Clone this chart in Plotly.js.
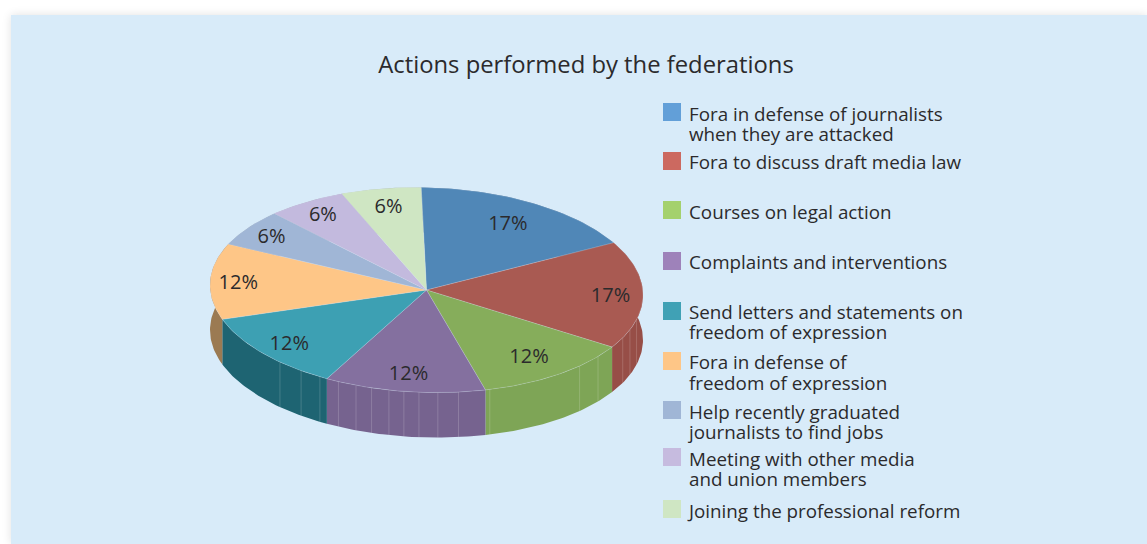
<!DOCTYPE html>
<html><head><meta charset="utf-8">
<script src="https://cdn.plot.ly/plotly-3.0.1.min.js"></script>
<style>
html,body{margin:0;padding:0;background:#fff;width:1147px;height:544px;overflow:hidden}
#panel{position:absolute;left:11px;top:15px;width:1136px;height:529px;background:#d8ebf9;box-shadow:0 0 9px rgba(0,0,0,.12)}
#chart{position:absolute;left:0;top:0;width:1147px;height:544px}
</style></head><body>
<div id="panel"></div><div id="chart"></div>
<script>
const titleText = "Actions performed by the federations";
const categories = [
 "Fora in defense of journalists<br>when they are attacked",
 "Fora to discuss draft media law",
 "Courses on legal action",
 "Complaints and interventions",
 "Send letters and statements on<br>freedom of expression",
 "Fora in defense of<br>freedom of expression",
 "Help recently graduated<br>journalists to find jobs",
 "Meeting with other media<br>and union members",
 "Joining the professional reform"];
const shares = [17,17,12,12,12,12,6,6,6];
const topColors = ["#5087b7","#a95a52","#86ad5b","#84709f","#3da0b3","#fec687","#a0b6d6","#c3bade","#cfe6c3"];
const sideColors = ["#3f6c93","#974e47","#7ea556","#76638f","#1e6472","#9b7a52","#7f92ab","#9c95b2","#a5b89c"];
const swatchColors = ["#629fd8","#cc6960","#a4d16d","#9e82ba","#40a1b5","#fec687","#a0b6d6","#c6bbdf","#cfe6c3"];
const swatchY = [112,161,210,261,311,361,410,457,509];
const legendLineY = [[114,134],[162],[212],[262],[312,332],[362,383],[412,432],[459,479],[511]];
const labelRadius = [.77,.85,.78,.82,.84,.87,.87,.86,.83];
const seamAngles = [104,110,115,127.6,135,163,171.5,177,182,186,190,194.7,199,204,209.5,215.4,222.6];

const cx=426.5, cy=290, rx=216.5, ry=102.5, depth=45, tilt=0.023, startAngle=-1.4, textNudge=2;
const font="Open Sans, sans-serif", ink="#2b2a2c";
const rad=d=>d*Math.PI/180;
const px=a=>cx+rx*Math.sin(rad(a));
const py=(a,dz=0)=>{const x=px(a);return cy-ry*Math.cos(rad(a))+tilt*(x-cx)+dz;};
function arc(a,b){const n=Math.max(2,Math.ceil(Math.abs(b-a)));const o=[];for(let i=0;i<=n;i++)o.push(a+(b-a)*i/n);return o;}

const total=shares.reduce((s,v)=>s+v,0);
let acc=startAngle;
const slices=shares.map((v,i)=>{const a=acc;const b=acc+v/total*360;acc=b;return {i,a,b,v};});
const traces=[];
slices.forEach(s=>{
  const ang=arc(s.a,s.b);
  const xs=ang.map(px).concat(ang.slice().reverse().map(px),[px(s.a)]);
  const ys=ang.map(a=>py(a)).concat(ang.slice().reverse().map(a=>py(a,depth)),[py(s.a)]);
  traces.push({type:"scatter",mode:"lines",x:xs,y:ys,fill:"toself",fillcolor:sideColors[s.i],line:{width:0},hoverinfo:"skip",showlegend:false});
});
seamAngles.forEach(a=>traces.push({type:"scatter",mode:"lines",x:[px(a),px(a)],y:[py(a),py(a,depth)],line:{width:1,color:"rgba(255,255,255,0.17)"},hoverinfo:"skip",showlegend:false}));
slices.forEach(s=>{
  const ang=arc(s.a,s.b);
  const xs=[cx].concat(ang.map(px),[cx]);
  const ys=[cy].concat(ang.map(a=>py(a)),[cy]);
  traces.push({type:"scatter",mode:"lines",x:xs,y:ys,fill:"toself",fillcolor:topColors[s.i],line:{width:0.5,color:"rgba(220,230,240,0.45)"},name:categories[s.i].replace("<br>"," "),hoverinfo:"name",showlegend:false});
});
traces.push({type:"scatter",mode:"text",
  x:slices.map(s=>cx+labelRadius[s.i]*rx*Math.sin(rad((s.a+s.b)/2))),
  y:slices.map(s=>{const m=(s.a+s.b)/2,r=labelRadius[s.i];return cy-r*ry*Math.cos(rad(m))+tilt*r*rx*Math.sin(rad(m))+textNudge;}),
  text:shares.map(v=>v+"%"),textposition:"middle center",textfont:{family:font,size:20,color:ink},hoverinfo:"skip",showlegend:false});
traces.push({type:"scatter",mode:"markers",x:categories.map(()=>672),y:swatchY,
  marker:{symbol:"square",size:18,color:swatchColors,line:{width:0}},hoverinfo:"skip",showlegend:false});
const lineText=[],lineY=[];
categories.forEach((c,i)=>c.split("<br>").forEach((t,j)=>{lineText.push(t);lineY.push(legendLineY[i][j]+textNudge);}));
traces.push({type:"scatter",mode:"text",x:lineText.map(()=>689),y:lineY,text:lineText,textposition:"middle right",
  textfont:{family:font,size:18.8,color:ink},hoverinfo:"skip",showlegend:false});
Plotly.newPlot("chart",traces,{
  width:1147,height:544,margin:{l:0,r:0,t:0,b:0},paper_bgcolor:"rgba(0,0,0,0)",plot_bgcolor:"rgba(0,0,0,0)",
  title:{text:titleText,x:586/1147,xref:"paper",xanchor:"center",y:1-65/544,yref:"paper",yanchor:"middle",font:{family:font,size:23.8,color:ink}},
  xaxis:{range:[0,1147],visible:false,fixedrange:true},yaxis:{range:[544,0],visible:false,fixedrange:true},
  showlegend:false
},{displayModeBar:false,staticPlot:true});
</script></body></html>
